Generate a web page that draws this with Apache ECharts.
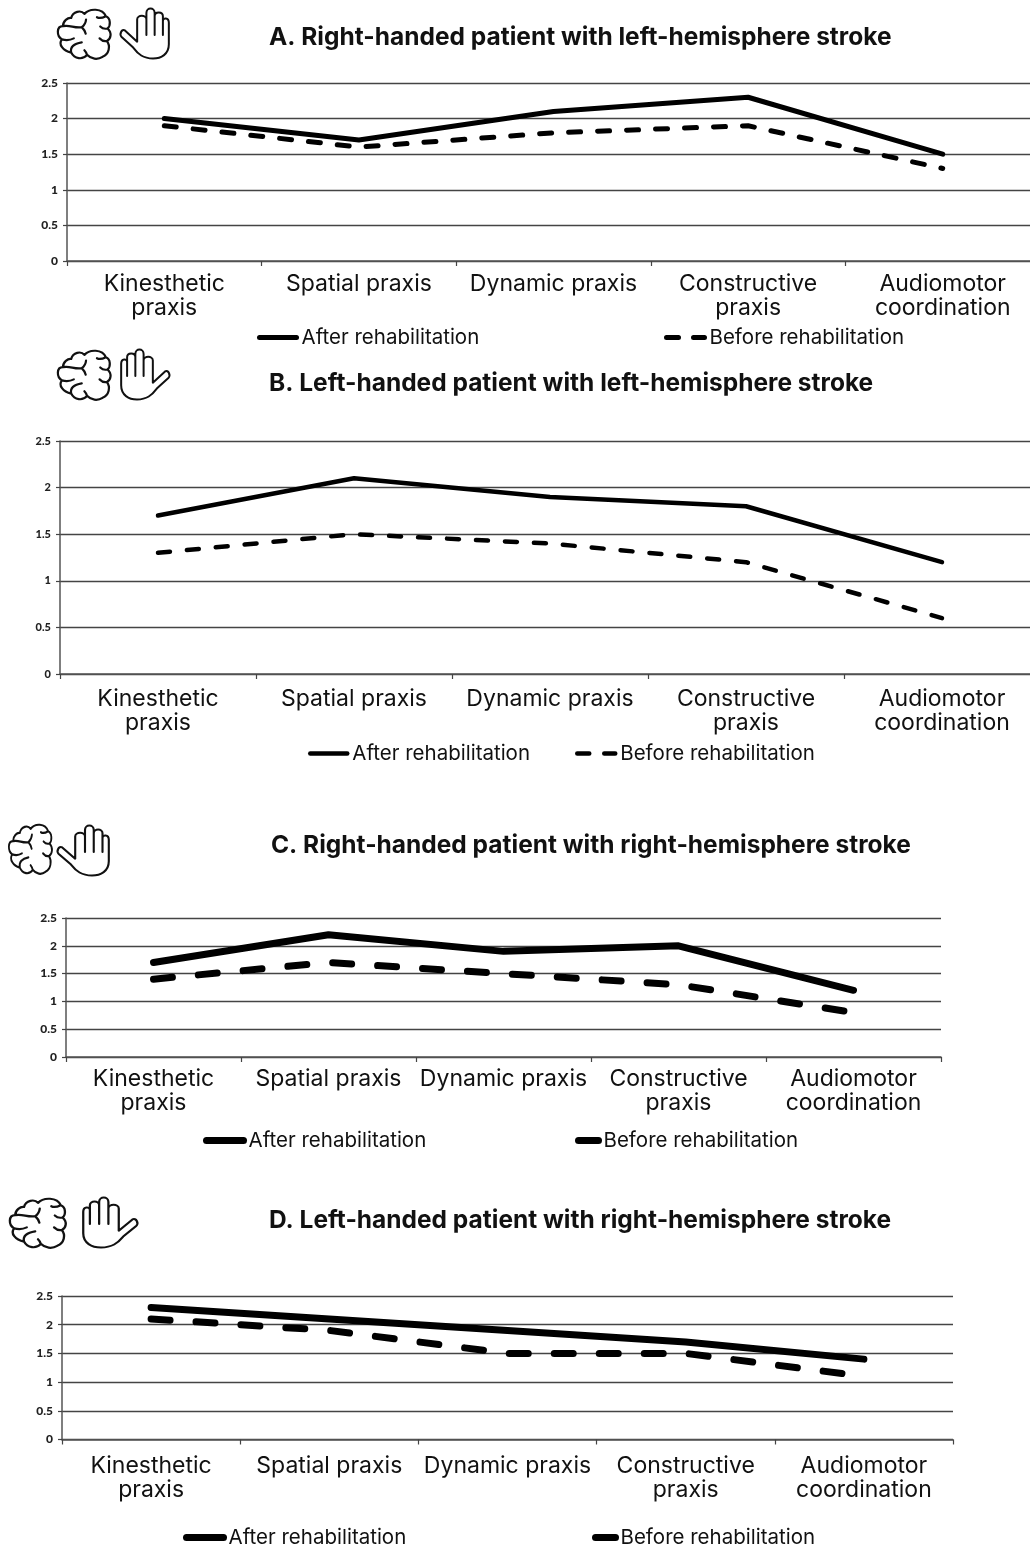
<!DOCTYPE html>
<html><head><meta charset="utf-8">
<style>html,body{margin:0;padding:0;background:#fff}#c{width:1030px;height:1549px}</style>
<script src="https://cdn.jsdelivr.net/npm/echarts@6/dist/echarts.min.js"></script>
</head><body><div id="c"></div>
<script>
const categories = ['Kinesthetic\npraxis','Spatial praxis','Dynamic praxis','Constructive\npraxis','Audiomotor\ncoordination'];
const afterName = 'After rehabilitation';
const beforeName = 'Before rehabilitation';
const titleA = 'A. Right-handed patient with left-hemisphere stroke';
const titleB = 'B. Left-handed patient with left-hemisphere stroke';
const titleC = 'C. Right-handed patient with right-hemisphere stroke';
const titleD = 'D. Left-handed patient with right-hemisphere stroke';
const afterA  = [2.0,1.7,2.1,2.3,1.5];
const beforeA = [1.9,1.6,1.8,1.9,1.3];
const afterB  = [1.7,2.1,1.9,1.8,1.2];
const beforeB = [1.3,1.5,1.4,1.2,0.6];
const afterC  = [1.7,2.2,1.9,2.0,1.2];
const beforeC = [1.4,1.7,1.5,1.3,0.8];
const afterD  = [2.3,2.1,1.9,1.7,1.4];
const beforeD = [2.1,1.9,1.5,1.5,1.1];

const BRAIN = 'M40 30C45 10 70 5 80 18C95 0 135 0 145 25C160 30 160 55 150 62C165 75 160 95 148 100C160 115 155 140 135 148C120 158 100 155 88 142C75 158 50 155 40 135C15 130 0 110 12 95C-5 85 -5 55 15 55C15 40 30 28 40 30Z'
 +'M15 55C35 50 50 62 72 58M72 58C80 52 84 45 85 35M72 58C78 64 82 70 84 78M12 95C30 100 40 96 48 92M40 135C36 118 48 108 72 104M145 25C135 30 125 32 118 28M150 62C142 64 134 62 128 56M148 100C140 102 132 98 126 92M88 142C86 136 84 132 80 128';
const HAND = 'M15 68L52 102L52 35C52 20 80 20 80 35L80 15C80 -3 105 -3 105 15L105 25C105 10 130 10 130 25L130 40C130 28 148 28 148 45L148 110C148 140 125 153 100 153C70 153 55 140 40 120L5 88C-3 80 5 62 15 68Z'
 +'M80 35L80 82M105 25L105 82M130 40L130 82';
echarts.graphic.registerShape('brainIcon', echarts.graphic.extendPath(BRAIN, {}));
echarts.graphic.registerShape('handIcon', echarts.graphic.extendPath(HAND, {}));

const FONT = 'Inter';
const TICKFONT = 'Lato';
const panels = [
 {title:titleA,tx:269,ty:25,after:afterA,before:beforeA,l:67,t:83,w:973,h:178,lw:5,dash:[12,17],tick:12,mar:11,
  legA:[257,335,37],legB:[664,335,38,[12,15]]},
 {title:titleB,tx:269,ty:371,after:afterB,before:beforeB,l:60,t:441,w:980,h:233,lw:4.5,dash:[12,17],tick:11,mar:13,
  legA:[308,751,37],legB:[575,751,38,[12,15]]},
 {title:titleC,tx:271,ty:833,after:afterC,before:beforeC,l:66,t:918,w:875,h:139,lw:7,dash:[19,26],tick:12,mar:10,
  legA:[203,1138,37],legB:[575,1138,20,[40,10]]},
 {title:titleD,tx:269,ty:1208,after:afterD,before:beforeD,l:62,t:1296,w:891,h:143.5,lw:7,dash:[19,26],tick:12,mar:15,
  legA:[183,1535,37],legB:[592,1535,20,[40,10]]}
];
const option = {animation:false,backgroundColor:'#fff',title:[],grid:[],xAxis:[],yAxis:[],series:[],legend:[],graphic:[]};
panels.forEach((p,i)=>{
  option.title.push({text:p.title,left:p.tx,top:p.ty,padding:0,textStyle:{fontFamily:FONT,fontWeight:700,fontSize:24.5,color:'#111'}});
  option.grid.push({left:p.l,top:p.t,width:p.w,height:p.h,containLabel:false,outerBoundsMode:'none'});
  option.xAxis.push({type:'category',gridIndex:i,data:categories,boundaryGap:true,
    axisLine:{show:true,lineStyle:{color:'#555',width:1.5}},
    axisTick:{show:true,length:5,lineStyle:{color:'#444',width:1.2}},
    splitLine:{show:false},
    axisLabel:{interval:0,margin:p.mar,fontFamily:FONT,fontSize:23,lineHeight:24,color:'#111',hideOverlap:false}});
  option.yAxis.push({type:'value',gridIndex:i,min:0,max:2.5,interval:0.5,
    axisLine:{show:true,lineStyle:{color:'#555',width:1.5}},
    axisTick:{show:true,length:4,lineStyle:{color:'#444',width:1.2}},
    splitLine:{show:true,lineStyle:{color:'#444',width:1.3}},
    axisLabel:{margin:9,fontFamily:TICKFONT,fontWeight:900,fontSize:p.tick,color:'#222'}});
  option.series.push({type:'line',name:afterName,xAxisIndex:i,yAxisIndex:i,data:p.after,symbol:'none',z:3,
    lineStyle:{color:'#000',width:p.lw,cap:'round',join:'round'},itemStyle:{color:'#000'}});
  option.series.push({type:'line',name:beforeName,xAxisIndex:i,yAxisIndex:i,data:p.before,symbol:'none',z:3,
    lineStyle:{color:'#000',width:p.lw,type:p.dash,cap:'round',join:'round'},itemStyle:{color:'#000'}});
  const legText={fontFamily:FONT,fontSize:20.5,color:'#111'};
  option.legend.push({data:[{name:afterName}],selectedMode:false,left:p.legA[0],top:p.legA[1]-8,padding:0,
    itemWidth:p.legA[2],itemHeight:16,textStyle:legText,lineStyle:{color:'#000',width:p.lw,cap:'round'},itemStyle:{opacity:0}});
  option.legend.push({data:[{name:beforeName}],selectedMode:false,left:p.legB[0],top:p.legB[1]-8,padding:0,
    itemWidth:p.legB[2],itemHeight:16,textStyle:legText,lineStyle:{color:'#000',width:p.lw,cap:'round',type:p.legB[3]},itemStyle:{opacity:0}});
});
const icon=(t,x,y,sx,sy,lw)=>({type:t,x:x,y:y,scaleX:sx,scaleY:sy,silent:true,
  style:{fill:'none',stroke:'#111',lineWidth:lw/Math.abs(sy),lineCap:'round',lineJoin:'round'}});
option.graphic=[
  icon('brainIcon',58,8,0.33,0.33,2.2), icon('handIcon',120,8,0.33,0.33,2),
  icon('brainIcon',58,349,0.33,0.33,2.2), icon('handIcon',170,349,-0.33,0.33,2),
  icon('brainIcon',9,823,0.27,0.33,2.2), icon('handIcon',57,825,0.35,0.33,2),
  icon('brainIcon',10,1197,0.35,0.33,2.2), icon('handIcon',138,1197,-0.37,0.33,2)
];
echarts.init(document.getElementById('c'),null,{renderer:'canvas'}).setOption(option);
</script></body></html>
